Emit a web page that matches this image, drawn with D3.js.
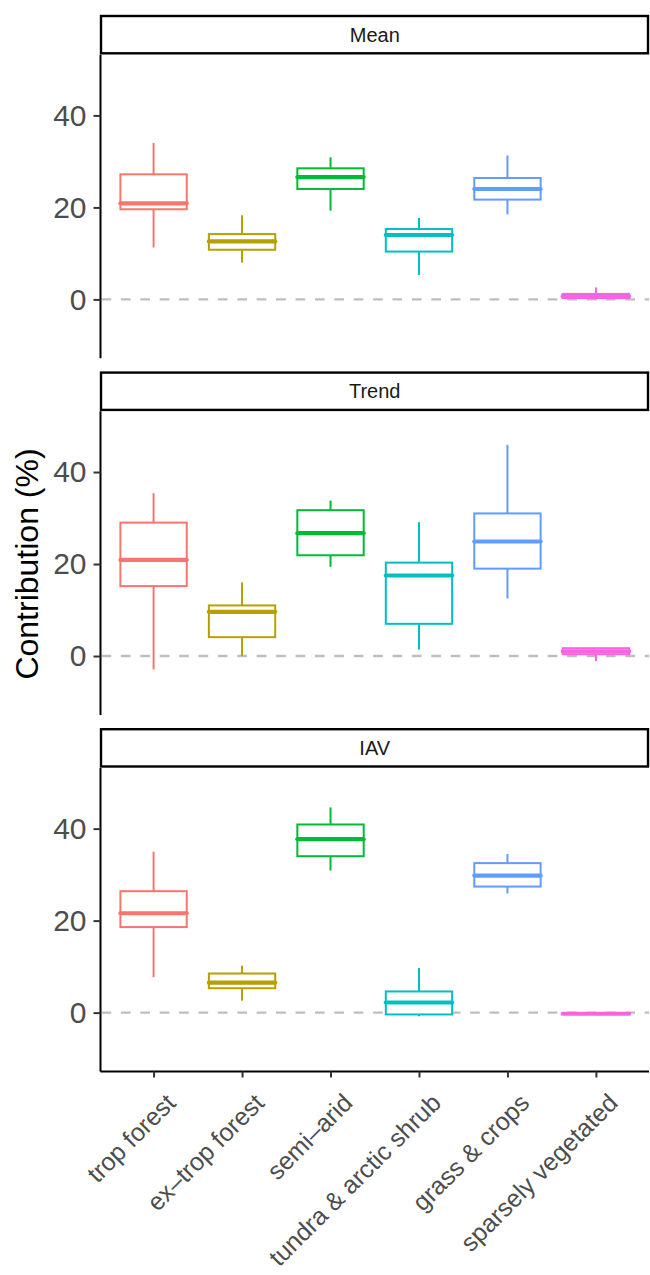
<!DOCTYPE html>
<html>
<head>
<meta charset="utf-8">
<script src="https://cdn.jsdelivr.net/npm/d3@7"></script>
<style>
  body { margin: 0; background: #fff; }
  svg { display: block; font-family: "Liberation Sans", Arial, sans-serif; }
</style>
</head>
<body>
<div id="chart"></div>
<script>
// categories on the x axis and the facet names
const categories = ["trop forest", "ex\u2013trop forest", "semi\u2013arid",
                    "tundra & arctic shrub", "grass & crops", "sparsely vegetated"];
const facets = ["Mean", "Trend", "IAV"];
const colors = ["#F8766D", "#B79F00", "#00BA38", "#00BFC4", "#619CFF", "#F564E3"];
const yTicks = [0, 20, 40];

// box stats per category: [lower whisker, q1, median, q3, upper whisker]
const meanStats = [
  [11.3, 19.6, 20.9, 27.2, 34.0],
  [8.0, 10.8, 12.6, 14.2, 18.3],
  [19.3, 24.0, 26.6, 28.5, 30.9],
  [5.3, 10.4, 14.0, 15.3, 17.7],
  [18.5, 21.7, 24.0, 26.4, 31.3],
  [0.0, 0.3, 0.7, 1.2, 2.6]
];
const trendStats = [
  [-2.9, 15.2, 20.9, 29.0, 35.4],
  [0.0, 4.1, 9.6, 11.0, 16.0],
  [19.4, 21.9, 26.7, 31.7, 33.8],
  [1.4, 7.0, 17.5, 20.3, 29.1],
  [12.5, 19.0, 24.9, 31.0, 45.9],
  [-1.1, 0.4, 1.0, 1.7, 1.7]
];
const iavStats = [
  [7.7, 18.6, 21.6, 26.4, 35.0],
  [2.6, 5.3, 6.5, 8.5, 10.2],
  [30.9, 34.0, 37.7, 40.9, 44.6],
  [-0.8, -0.4, 2.2, 4.6, 9.7],
  [25.9, 27.4, 29.8, 32.5, 34.5],
  [-0.35, -0.3, -0.25, -0.2, -0.15]
];
const allStats = [meanStats, trendStats, iavStats];

const W = 650, H = 1275;
const left = 100.5, right = 648;
const stripTop = 16, stripH = 37.3, panelH = 303.6, panelStep = 356.6;

const svg = d3.select("#chart").append("svg")
    .attr("width", W).attr("height", H);

const x = d3.scalePoint()
    .domain(categories)
    .range([left, 649])
    .padding(0.6);
const boxW = x.step() * 0.75;

facets.forEach((name, fi) => {
    const top = stripTop + fi * panelStep;
    const pTop = top + stripH + 1.4;
    const pBot = pTop + panelH;
    const y = d3.scaleLinear().domain([-12.8, 53.2]).range([pBot, pTop]);
    const g = svg.append("g");

    // strip
    g.append("rect")
        .attr("x", left + 0.5).attr("y", top)
        .attr("width", right - left - 0.5).attr("height", stripH)
        .attr("fill", "#fff").attr("stroke", "#000").attr("stroke-width", 2.4);
    g.append("text")
        .attr("x", (left + 649) / 2).attr("y", top + stripH / 2)
        .attr("dy", "0.36em")
        .attr("text-anchor", "middle")
        .attr("font-size", 20).attr("fill", "#1A1A1A")
        .text(name);

    // zero reference line
    g.append("line")
        .attr("x1", left + 1).attr("x2", 649)
        .attr("y1", y(0)).attr("y2", y(0))
        .attr("stroke", "#BEBEBE").attr("stroke-width", 2.4)
        .attr("stroke-dasharray", "9.7,9.7");

    // boxplots
    const stats = allStats[fi];
    const bx = g.selectAll("g.box").data(stats).join("g").attr("class", "box");
    bx.append("line")
        .attr("x1", (d, i) => x(categories[i])).attr("x2", (d, i) => x(categories[i]))
        .attr("y1", d => y(d[4])).attr("y2", d => y(d[3]))
        .attr("stroke", (d, i) => colors[i]).attr("stroke-width", 2);
    bx.append("line")
        .attr("x1", (d, i) => x(categories[i])).attr("x2", (d, i) => x(categories[i]))
        .attr("y1", d => y(d[1])).attr("y2", d => y(d[0]))
        .attr("stroke", (d, i) => colors[i]).attr("stroke-width", 2);
    bx.append("rect")
        .attr("x", (d, i) => x(categories[i]) - boxW / 2)
        .attr("width", boxW)
        .attr("y", d => y(d[3]))
        .attr("height", d => Math.max(0.01, y(d[1]) - y(d[3])))
        .attr("fill", "#fff")
        .attr("stroke", (d, i) => colors[i]).attr("stroke-width", 2);
    bx.append("line")
        .attr("x1", (d, i) => x(categories[i]) - boxW / 2)
        .attr("x2", (d, i) => x(categories[i]) + boxW / 2)
        .attr("y1", d => y(d[2])).attr("y2", d => y(d[2]))
        .attr("stroke", (d, i) => colors[i]).attr("stroke-width", 4.2)
        .attr("stroke-linecap", "round");

    // y axis
    const ya = g.append("g")
        .attr("transform", `translate(${left},0)`)
        .call(d3.axisLeft(y).tickValues(yTicks).tickSize(7).tickPadding(7).tickFormat(d3.format("d")));
    ya.select(".domain").attr("d", `M0,${pTop}V${pBot}`).attr("stroke", "#000").attr("stroke-width", 2);
    ya.selectAll(".tick line").attr("stroke", "#333").attr("stroke-width", 2);
    ya.selectAll(".tick text").attr("font-size", 30).attr("fill", "#4D4D4D")
        .attr("font-family", "Liberation Sans, Arial, sans-serif");

    // x axis on the bottom panel only
    if (fi === facets.length - 1) {
        const xa = g.append("g")
            .attr("transform", `translate(0,${pBot})`)
            .call(d3.axisBottom(x).tickSize(6).tickFormat(""));
        xa.select(".domain").attr("d", `M${left},0H649`).attr("stroke", "#000").attr("stroke-width", 2);
        xa.selectAll(".tick line").attr("stroke", "#333").attr("stroke-width", 2);
        xa.selectAll(".tick").append("text")
            .attr("transform", "translate(23,33) rotate(-45)")
            .attr("text-anchor", "end")
            .attr("font-size", 25).attr("fill", "#4D4D4D")
            .attr("font-family", "Liberation Sans, Arial, sans-serif")
            .text(d => d);
    }
});

// y axis title
svg.append("text")
    .attr("transform", "translate(38,564) rotate(-90)")
    .attr("text-anchor", "middle")
    .attr("font-size", 32).attr("fill", "#000")
    .text("Contribution (%)");
</script>
</body>
</html>
